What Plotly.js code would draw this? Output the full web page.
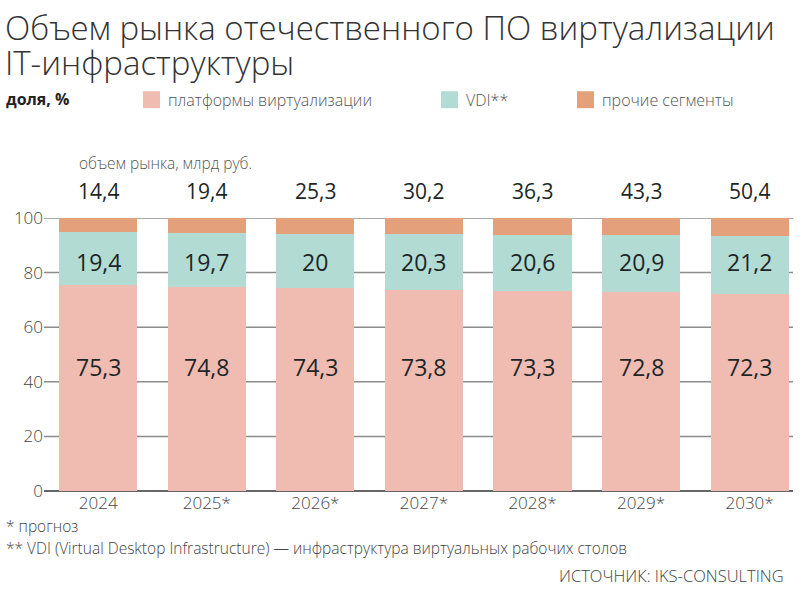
<!DOCTYPE html>
<html><head><meta charset="utf-8">
<script src="https://cdn.plot.ly/plotly-3.0.1.min.js"></script>
<style>html,body{margin:0;padding:0;background:#fff}</style>
</head><body>
<div id="chart" style="width:800px;height:590px"></div>
<script>
const years = ["2024","2025*","2026*","2027*","2028*","2029*","2030*"];
const platform = [75.3,74.8,74.3,73.8,73.3,72.8,72.3];
const vdi = [19.4,19.7,20,20.3,20.6,20.9,21.2];
const other = [5.3,5.5,5.7,5.9,6.1,6.3,6.5];
const marketVolume = ["14,4","19,4","25,3","30,2","36,3","43,3","50,4"];
const seriesNames = ["платформы виртуализации","VDI**","прочие сегменты"];
const colors = ["#f0bcb1","#b2dcd3","#e4a07b"];
const yTicks = [0,20,40,60,80,100];
const titleLines = ["Объем рынка отечественного ПО виртуализации","IT-инфраструктуры"];

const LIGHT = "Open Sans";
const fmt = v => String(v).replace(".", ",");

// gridlines as a line trace on a hidden base x-axis (drawn beneath the bars)
const gx = [], gy = [];
yTicks.filter(t => t > 0).forEach(t => { gx.push(0, 1, null); gy.push(t, t, null); });
const gridTrace = {type: "scatter", mode: "lines", x: gx, y: gy, xaxis: "x", yaxis: "y",
  line: {color: "#8c8c8c", width: 1.5}, hoverinfo: "skip", showlegend: false, cliponaxis: false};

const mk = (vals, i) => ({
  type: "bar", x: years, y: vals, name: seriesNames[i], xaxis: "x2", yaxis: "y",
  marker: {color: colors[i], line: {width: 0}},
  hoverinfo: "skip", showlegend: false
});
const data = [gridTrace, mk(platform,0), mk(vdi,1), mk(other,2)];

const px = (x) => (x - 44) / 749, py = (y) => (491.5 - y) / 273.5;
const annotations = [];
const shapes = [];
const valFont = {family: "Open Sans", size: 23, color: "#1c2626", weight: 500};
years.forEach((yr, i) => {
  annotations.push({x: i, y: 45.6, xref: "x2", yref: "y", text: fmt(platform[i]), showarrow: false, font: valFont});
  annotations.push({x: i, y: 84, xref: "x2", yref: "y", text: fmt(vdi[i]), showarrow: false, font: valFont});
  annotations.push({x: i, y: 100, xref: "x2", yref: "y", yanchor: "middle", yshift: 27, text: marketVolume[i], showarrow: false,
    font: {family: "Open Sans", size: 21, color: "#1c2626", weight: 500}});
});
annotations.push({x: px(3), y: py(27), xref: "paper", yref: "paper", xanchor: "left", yanchor: "middle",
  text: titleLines[0], showarrow: false, font: {family: LIGHT, size: 33, color: "#333", weight: 300}});
annotations.push({x: px(3), y: py(62), xref: "paper", yref: "paper", xanchor: "left", yanchor: "middle",
  text: titleLines[1], showarrow: false, font: {family: LIGHT, size: 33, color: "#333", weight: 300}});
annotations.push({x: px(77), y: py(163), xref: "paper", yref: "paper", xanchor: "left", yanchor: "middle",
  text: "объем рынка, млрд руб.", showarrow: false, font: {family: LIGHT, size: 15.5, color: "#555", weight: 300}});
annotations.push({x: px(4), y: py(99), xref: "paper", yref: "paper", xanchor: "left", yanchor: "middle",
  text: "<b>доля, %</b>", showarrow: false, font: {family: "Open Sans", size: 16, color: "#222"}});
const legX = [143, 441, 577];
seriesNames.forEach((n, i) => {
  shapes.push({type: "rect", xref: "paper", yref: "paper", x0: px(legX[i]), x1: px(legX[i] + 17),
    y0: py(108), y1: py(91), fillcolor: colors[i], line: {width: 0}});
  annotations.push({x: px(legX[i] + 23), y: py(100), xref: "paper", yref: "paper", xanchor: "left", yanchor: "middle",
    text: n, showarrow: false, font: {family: LIGHT, size: 16, color: "#555", weight: 300}});
});
annotations.push({x: px(4), y: py(527), xref: "paper", yref: "paper", xanchor: "left", yanchor: "middle",
  text: "* прогноз", showarrow: false, font: {family: LIGHT, size: 15.5, color: "#444", weight: 300}});
annotations.push({x: px(4), y: py(549), xref: "paper", yref: "paper", xanchor: "left", yanchor: "middle",
  text: "** VDI (Virtual Desktop Infrastructure) — инфраструктура виртуальных рабочих столов", showarrow: false,
  font: {family: LIGHT, size: 15.5, color: "#444", weight: 300}});
annotations.push({x: px(786), y: py(576), xref: "paper", yref: "paper", xanchor: "right", yanchor: "middle",
  text: "ИСТОЧНИК: IKS-CONSULTING", showarrow: false, font: {family: LIGHT, size: 16.5, color: "#444", weight: 300}});

const layout = {
  width: 800, height: 590,
  margin: {l: 44, r: 7, t: 218, b: 98.5},
  paper_bgcolor: "#ffffff", plot_bgcolor: "rgba(0,0,0,0)",
  barmode: "stack", bargap: 0.28,
  xaxis: {range: [0, 1], visible: false, showgrid: false, zeroline: false, fixedrange: true},
  xaxis2: {type: "category", overlaying: "x", side: "bottom", anchor: "y", range: [-0.5, 6.4],
    showgrid: false, zeroline: false, showline: false,
    ticks: "", tickfont: {family: LIGHT, size: 17, color: "#444", weight: 300}, fixedrange: true},
  yaxis: {range: [0, 100], tickvals: yTicks, ticktext: yTicks.map(String), showgrid: false,
    zeroline: true, zerolinecolor: "#666", zerolinewidth: 1.6,
    showline: false, ticks: "",
    tickfont: {family: LIGHT, size: 17, color: "#444", weight: 300}, fixedrange: true},
  annotations: annotations, shapes: shapes, showlegend: false
};
Plotly.newPlot("chart", data, layout, {displayModeBar: false, staticPlot: true});
</script>
</body></html>
